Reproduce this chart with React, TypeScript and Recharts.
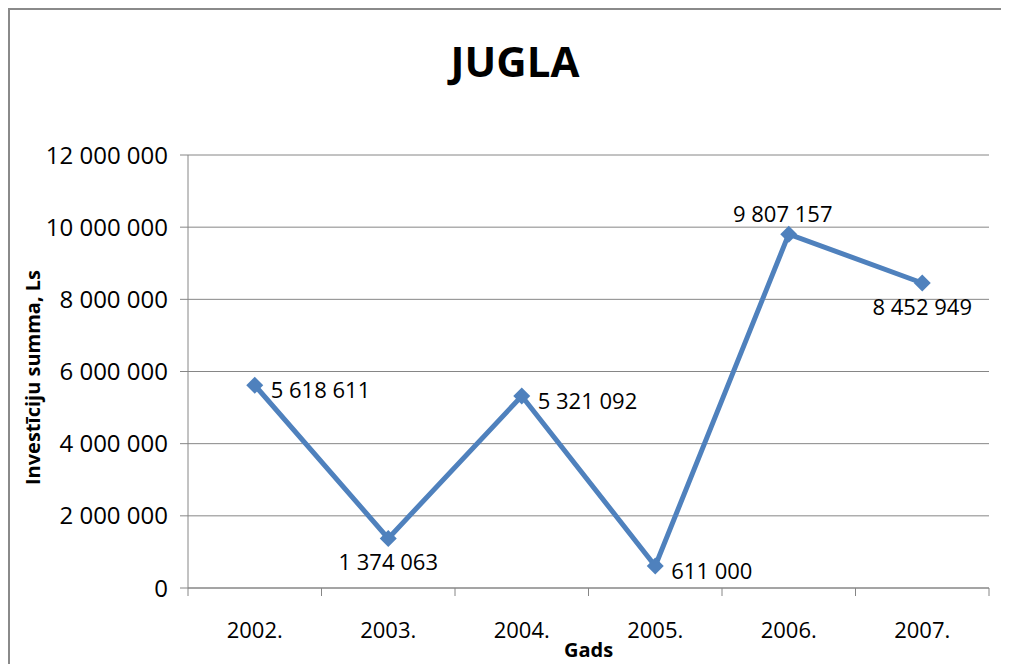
import { ComposedChart, Line, XAxis, YAxis, CartesianGrid, LabelList } from "recharts";

const years = ["2002.", "2003.", "2004.", "2005.", "2006.", "2007."];
const investments = [5618611, 1374063, 5321092, 611000, 9807157, 8452949];
const yTicks = [0, 2000000, 4000000, 6000000, 8000000, 10000000, 12000000];

// where Excel put each data label relative to its point
const labelSide = ["right", "below", "right", "right", "above", "below"];

const data = years.map((year, i) => ({ year, value: investments[i] }));

const W = 993;
const H = 680;
const margin = { top: 145, right: 14, left: 0, bottom: 0 };
const yAxisWidth = 178;
const plotWidth = W - margin.left - margin.right - yAxisWidth;
const step = plotWidth / years.length;

const FONT = "'Open Sans', sans-serif";
const BLUE = "#4F81BD";
const GRID = "#868686";

const fmt = (v: number) => String(v).replace(/\B(?=(\d{3})+(?!\d))/g, " ");

function Diamond(props: any) {
  const { cx, cy } = props;
  if (cx == null || cy == null) return null;
  const r = 8.5;
  return <path d={`M${cx},${cy - r}L${cx + r},${cy}L${cx},${cy + r}L${cx - r},${cy}Z`} fill={BLUE} />;
}

function YearTick(props: any) {
  const { x, y, payload, index } = props;
  const last = index === years.length - 1;
  return (
    <g>
      <line x1={x - step / 2} x2={x - step / 2} y1={y} y2={y + 8} stroke={GRID} />
      {last && <line x1={x + step / 2} x2={x + step / 2} y1={y} y2={y + 8} stroke={GRID} />}
      <text x={x} y={y + 50} textAnchor="middle" fontSize={22} fontFamily={FONT} fill="#000">
        {payload.value}
      </text>
    </g>
  );
}

function ValueLabel(props: any) {
  const { x, y, value, index } = props;
  const side = labelSide[index];
  let tx = x + 16;
  let ty = y + 13;
  let anchor: "start" | "middle" = "start";
  if (side === "below") {
    tx = x;
    ty = y + 32;
    anchor = "middle";
  } else if (side === "above") {
    tx = x - 6;
    ty = y - 12;
    anchor = "middle";
  }
  return (
    <text x={tx} y={ty} textAnchor={anchor} fontSize={22} fontFamily={FONT} fill="#000">
      {fmt(value)}
    </text>
  );
}

export default function App() {
  return (
    <div style={{ width: W, height: H, border: "2px solid #8a8a8a", background: "#fff" }}>
      <ComposedChart width={W} height={H} data={data} margin={margin}>
        <CartesianGrid stroke={GRID} vertical={false} />
        <XAxis
          dataKey="year"
          scale="band"
          stroke={GRID}
          tickLine={false}
          tickSize={0}
          tickMargin={0}
          height={H - 578}
          tick={<YearTick />}
          label={{
            content: ({ viewBox }: any) => (
              <text
                x={viewBox.x + viewBox.width / 2}
                y={viewBox.y + 69}
                textAnchor="middle"
                fontSize={20}
                fontWeight={700}
                fontFamily={FONT}
                fill="#000"
              >
                Gads
              </text>
            )
          }}
        />
        <YAxis
          width={yAxisWidth}
          domain={[0, 12000000]}
          ticks={yTicks}
          stroke={GRID}
          tickSize={8}
          tickMargin={12}
          tickFormatter={fmt}
          tick={{ fontSize: 24, fontFamily: FONT, fill: "#000" }}
          label={{
            content: ({ viewBox }: any) => {
              const cx = 22;
              const cy = viewBox.y + viewBox.height / 2 + 6;
              return (
                <text
                  x={cx}
                  y={cy}
                  transform={`rotate(-90 ${cx} ${cy})`}
                  textAnchor="middle"
                  dominantBaseline="central"
                  fontSize={20}
                  fontWeight={700}
                  fontFamily={FONT}
                  fill="#000"
                >
                  Investīciju summa, Ls
                </text>
              );
            }
          }}
        />
        <Line
          dataKey="value"
          type="linear"
          stroke={BLUE}
          strokeWidth={5}
          dot={<Diamond />}
          activeDot={false}
          isAnimationActive={false}
        >
          <LabelList dataKey="value" content={<ValueLabel />} />
        </Line>
        <text x={505} y={67} textAnchor="middle" fontSize={42} fontWeight={700} fontFamily={FONT} fill="#000">
          JUGLA
        </text>
      </ComposedChart>
    </div>
  );
}
